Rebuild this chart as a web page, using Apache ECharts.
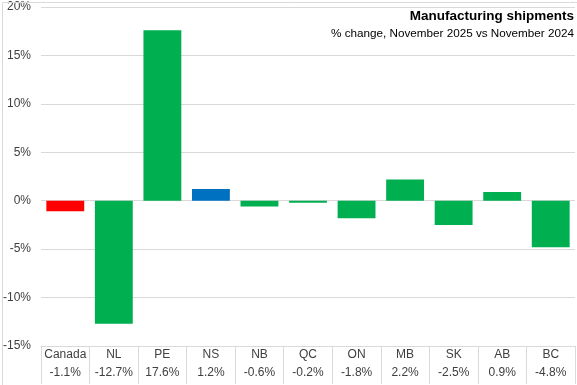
<!DOCTYPE html>
<html>
<head>
<meta charset="utf-8">
<script src="https://cdn.jsdelivr.net/npm/echarts@6/dist/echarts.min.js"></script>
<style>
html,body{margin:0;padding:0;background:#fff;}
#chart{width:577px;height:385px;}
</style>
</head>
<body>
<div id="chart"></div>
<script>
const categories = ['Canada','NL','PE','NS','NB','QC','ON','MB','SK','AB','BC'];
const values = [-1.1,-12.7,17.6,1.2,-0.6,-0.2,-1.8,2.2,-2.5,0.9,-4.8];
const barColors = ['#ff0000','#00b050','#00b050','#0070c0','#00b050','#00b050','#00b050','#00b050','#00b050','#00b050','#00b050'];
const yTicks = {min:-15, max:20, interval:5};
const titleText = 'Manufacturing shipments';
const subtitleText = '% change, November 2025 vs November 2024';

const FONT = '"Liberation Sans", Arial, sans-serif';
const chart = echarts.init(document.getElementById('chart'), null, {renderer:'canvas'});
chart.setOption({
  animation:false,
  backgroundColor:'#ffffff',
  textStyle:{fontFamily:FONT},
  graphic:[{
    type:'rect', left:0, top:0, z:100, silent:true,
    shape:{x:0,y:0,width:576,height:384},
    style:{fill:'none',stroke:'#d9d9d9',lineWidth:1}
  },{
    type:'text', right:3, top:9, z:100, silent:true,
    style:{text:titleText,font:'bold 13.5px '+FONT,fill:'#000'}
  },{
    type:'text', right:3, top:28, z:100, silent:true,
    style:{text:subtitleText,font:'11.7px '+FONT,fill:'#000'}
  }],
  grid:{left:38,right:2,top:7,bottom:39,containLabel:false},
  xAxis:{
    type:'category',
    data:categories,
    boundaryGap:true,
    axisLine:{show:true,onZero:false,lineStyle:{color:'#d9d9d9'}},
    axisTick:{show:true,length:38,lineStyle:{color:'#d9d9d9'}},
    axisLabel:{
      margin:0,
      interval:0,
      formatter:function(v,i){return '{a|'+v+'}\n{b|'+values[i].toFixed(1)+'%}';},
      rich:{
        a:{fontFamily:FONT,fontSize:12,color:'#404040',lineHeight:18},
        b:{fontFamily:FONT,fontSize:12,color:'#404040',lineHeight:18}
      }
    }
  },
  yAxis:{
    type:'value',
    min:yTicks.min,max:yTicks.max,interval:yTicks.interval,
    axisLine:{show:false},
    axisTick:{show:false},
    splitLine:{lineStyle:{color:'#d9d9d9'}},
    axisLabel:{formatter:'{value}%',fontFamily:FONT,fontSize:12,color:'#404040',margin:10}
  },
  series:[{
    type:'bar',
    data:values.map((v,i)=>({value:v,itemStyle:{color:barColors[i]}})),
    barCategoryGap:'22%'
  }]
});
</script>
</body>
</html>
